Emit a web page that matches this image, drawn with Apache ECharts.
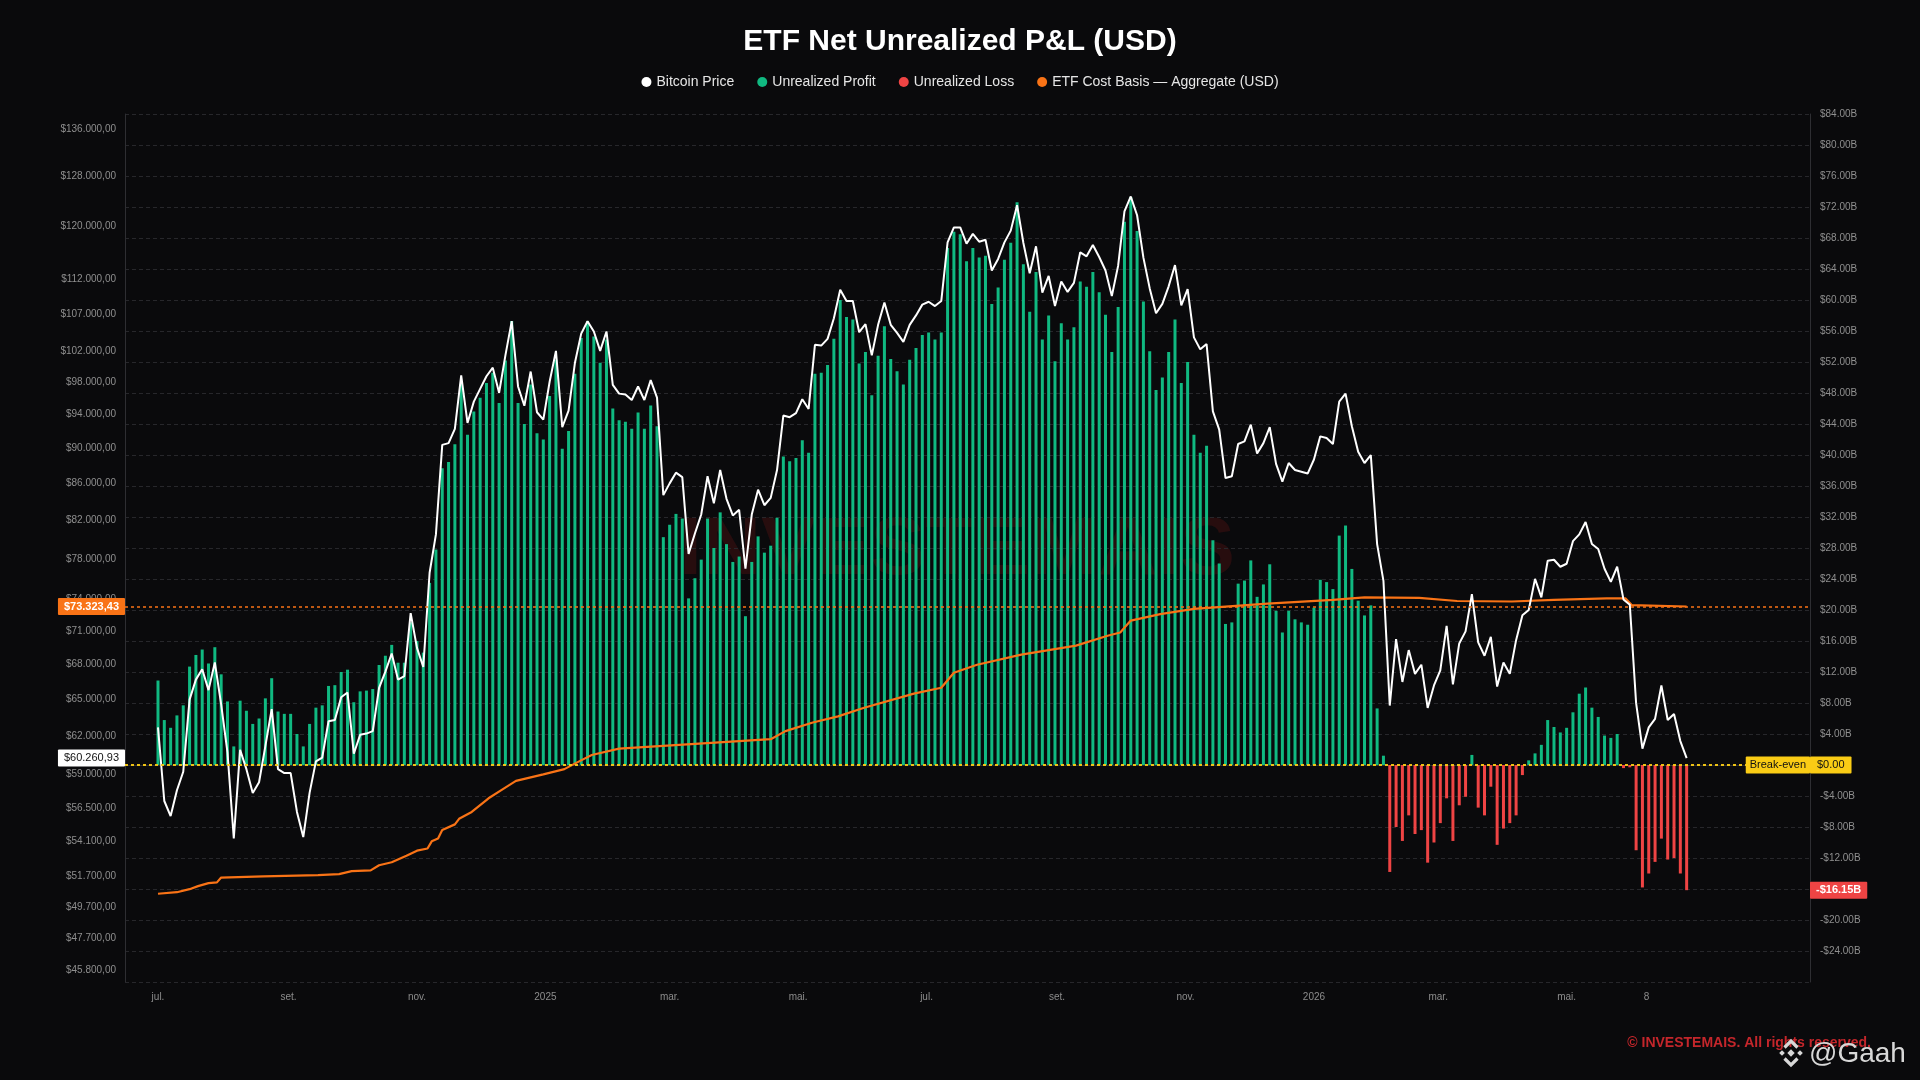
<!DOCTYPE html>
<html>
<head>
<meta charset="utf-8">
<title>ETF Net Unrealized P&amp;L (USD)</title>
<script src="https://cdn.jsdelivr.net/npm/echarts@6/dist/echarts.min.js"></script>
<style>
  html, body { margin: 0; padding: 0; background: #0a0a0c; }
  #chart { width: 1920px; height: 1080px; }
</style>
</head>
<body>
<div id="chart"></div>
<script>
// price and P&L are sampled every 3 days starting 2024-07-01
const sampleStart = '2024-07-01';
const sampleStepDays = 3;

// Bitcoin price, thousand USD
const btcPrice = [
  62.7, 57.0, 55.9, 57.8, 59.2, 65.0, 66.7, 67.6, 65.8, 68.2,
  64.6, 60.7, 54.3, 60.9, 59.4, 57.6, 58.4, 61.2, 64.2, 59.4,
  59.1, 59.1, 56.2, 54.4, 57.6, 60.0, 60.3, 63.2, 63.3, 65.2,
  65.6, 60.6, 62.1, 62.2, 62.4, 66.0, 67.4, 69.0, 66.7, 67.0,
  72.7, 69.5, 67.8, 76.6, 80.5, 90.4, 90.6, 92.3, 98.9, 93.0,
  95.6, 97.2, 98.8, 99.9, 96.7, 101.5, 106.1, 97.5, 95.1, 99.4,
  94.3, 93.4, 98.1, 102.1, 92.5, 94.5, 100.5, 104.4, 106.1, 104.7,
  102.1, 104.7, 97.7, 96.6, 96.5, 95.8, 97.5, 95.8, 98.3, 96.1,
  84.7, 86.0, 87.2, 86.7, 78.5, 80.6, 82.6, 86.8, 83.8, 87.5,
  84.3, 82.5, 83.1, 77.0, 82.6, 85.3, 83.6, 84.4, 87.5, 93.9,
  93.7, 94.2, 95.9, 94.7, 102.9, 102.8, 103.7, 106.5, 110.5, 108.9,
  108.9, 104.6, 105.7, 101.5, 105.6, 108.7, 105.6, 104.5, 103.3, 105.6,
  106.9, 108.4, 108.8, 108.2, 108.9, 117.5, 119.8, 119.8, 117.3, 118.8,
  117.6, 117.9, 113.3, 115.0, 117.5, 119.3, 123.3, 117.4, 112.9, 116.9,
  110.1, 112.5, 108.2, 111.7, 110.2, 111.5, 116.0, 115.4, 117.1, 115.3,
  113.3, 109.6, 114.0, 122.3, 124.7, 121.7, 115.2, 110.7, 107.2, 108.5,
  111.0, 114.1, 108.3, 110.6, 103.9, 102.3, 103.0, 94.4, 92.2, 86.6,
  86.8, 90.5, 90.8, 92.8, 89.4, 90.6, 92.5, 88.2, 86.2, 88.3,
  87.5, 87.3, 87.1, 88.7, 91.4, 91.2, 90.5, 95.6, 96.6, 92.6,
  89.6, 88.3, 89.2, 79.5, 75.8, 64.5, 70.3, 66.5, 69.3, 67.2,
  68.0, 64.3, 66.2, 67.5, 71.5, 66.3, 69.9, 71.0, 74.5, 70.0,
  68.8, 70.5, 66.1, 68.2, 67.2, 70.2, 72.5, 73.0, 76.0, 74.2,
  77.8, 77.9, 77.2, 77.5, 79.8, 80.5, 81.8, 79.5, 79.0, 77.0,
  75.7, 77.2, 74.0, 73.5, 64.7, 61.0, 62.7, 63.4, 66.2, 63.3,
  63.8, 61.6, 60.26093
];

// ETF net unrealized P&L, billion USD
const netPnl = [
  10.9, 5.8, 4.8, 6.4, 7.7, 12.7, 14.2, 14.9, 13.1, 15.2,
  11.7, 8.2, 2.4, 8.3, 7.0, 5.3, 6.0, 8.6, 11.2, 6.9,
  6.6, 6.6, 4.0, 2.4, 5.3, 7.4, 7.7, 10.2, 10.3, 12.0,
  12.3, 8.1, 9.5, 9.6, 9.8, 12.9, 14.1, 15.5, 13.2, 13.2,
  18.4, 16.0, 14.5, 23.5, 27.8, 38.3, 39.1, 41.4, 49.2, 42.6,
  45.6, 47.4, 49.3, 50.6, 46.7, 52.2, 57.3, 46.7, 44.0, 49.1,
  42.8, 42.0, 47.6, 52.3, 40.8, 43.1, 50.5, 55.1, 57.3, 55.3,
  51.9, 54.9, 46.0, 44.5, 44.3, 43.4, 45.5, 43.4, 46.4, 43.7,
  29.4, 31.0, 32.4, 31.8, 21.5, 24.1, 26.5, 31.8, 28.0, 32.6,
  28.5, 26.2, 26.9, 19.2, 26.2, 29.5, 27.4, 28.3, 31.9, 39.8,
  39.2, 39.6, 41.9, 40.3, 50.5, 50.6, 51.6, 55.0, 60.0, 57.8,
  57.5, 51.8, 53.3, 47.7, 52.8, 56.6, 52.4, 50.8, 49.1, 52.3,
  53.8, 55.5, 55.8, 54.9, 55.8, 66.7, 68.8, 68.5, 65.0, 66.7,
  65.5, 65.7, 59.5, 61.6, 65.2, 67.4, 72.6, 64.6, 58.5, 63.6,
  54.9, 58.0, 52.1, 57.0, 54.9, 56.5, 62.4, 61.7, 63.6, 61.0,
  58.1, 53.3, 59.1, 70.1, 73.3, 68.9, 59.8, 53.4, 48.4, 50.0,
  53.3, 57.5, 49.3, 52.0, 42.6, 40.3, 41.2, 29.0, 26.0, 18.2,
  18.4, 23.4, 23.8, 26.4, 21.7, 23.3, 25.9, 19.9, 17.1, 19.9,
  18.8, 18.4, 18.1, 20.3, 23.9, 23.6, 22.7, 29.6, 30.9, 25.3,
  21.2, 19.3, 20.6, 7.3, 1.2, -13.8, -8.0, -9.8, -6.5, -8.9,
  -8.4, -12.6, -10.0, -7.5, -4.3, -9.8, -5.2, -4.1, 1.3, -5.5,
  -6.5, -2.8, -10.3, -8.2, -7.5, -6.5, -1.3, 0.6, 1.5, 2.6,
  5.8, 4.9, 4.2, 4.8, 6.8, 9.2, 10.0, 7.4, 6.2, 3.8,
  3.5, 4.0, -0.4, -0.3, -11.0, -15.8, -14.0, -12.5, -9.5, -12.2,
  -12.0, -14.0, -16.15
];

// ETF aggregate cost basis, thousand USD
const costDates = [
  '2024-07-01', '2024-07-10', '2024-07-16', '2024-07-20', '2024-07-25', '2024-07-29',
  '2024-07-31', '2024-08-20', '2024-09-15', '2024-09-25', '2024-10-01', '2024-10-10',
  '2024-10-14', '2024-10-20', '2024-10-27', '2024-11-01', '2024-11-06', '2024-11-08',
  '2024-11-11', '2024-11-13', '2024-11-19', '2024-11-21', '2024-11-27', '2024-12-05',
  '2024-12-12', '2024-12-18', '2024-12-31', '2025-01-10', '2025-01-17', '2025-01-23',
  '2025-02-05', '2025-03-15', '2025-04-18', '2025-04-25', '2025-05-08', '2025-05-20',
  '2025-06-01', '2025-06-25', '2025-07-08', '2025-07-14', '2025-07-25', '2025-08-15',
  '2025-09-10', '2025-09-25', '2025-10-01', '2025-10-06', '2025-10-20', '2025-11-05',
  '2025-12-10', '2026-01-10', '2026-01-25', '2026-02-20', '2026-03-10', '2026-04-05',
  '2026-04-25', '2026-05-20', '2026-05-29', '2026-06-01', '2026-06-27'
];
const costBasis = [
  50.55, 50.65, 50.85, 51.05, 51.25, 51.30,
  51.62, 51.70, 51.78, 51.85, 52.05, 52.10,
  52.45, 52.65, 53.10, 53.45, 53.60, 54.10,
  54.30, 54.90, 55.30, 55.70, 56.20, 57.20,
  57.90, 58.50, 59.00, 59.40, 60.00, 60.50,
  61.00, 61.40, 61.75, 62.40, 63.10, 63.60,
  64.30, 65.50, 66.00, 67.30, 68.00, 68.90,
  69.70, 70.60, 70.90, 72.00, 72.60, 73.10,
  73.60, 73.95, 74.20, 74.15, 73.85, 73.80,
  73.95, 74.10, 74.10, 73.45, 73.32343
];

// left price scale labels (log scale)
const priceTicks = [
  136000, 128000, 120000, 112000, 107000, 102000, 98000, 94000, 90000, 86000,
  82000, 78000, 74000, 71000, 68000, 65000, 62000, 59000, 56500, 54100,
  51700, 49700, 47700, 45800
];
const timeTicks = [
  '2024-07-01', '2024-09-01', '2024-11-01', '2025-01-01', '2025-03-01', '2025-05-01',
  '2025-07-01', '2025-09-01', '2025-11-01', '2026-01-01', '2026-03-01', '2026-05-01',
  '2026-06-08'
];

const lastPrice = 60260.93;
const lastCostBasis = 73323.43;
const lastPnl = -16.15;

const FONT = "'Liberation Sans', Arial, sans-serif";
const DAY = 86400000;
const toTime = (s) => Date.parse(s + 'T00:00:00Z');

const t0 = toTime(sampleStart);
const sampleTimes = btcPrice.map((_, i) => t0 + i * sampleStepDays * DAY);

const priceData = btcPrice.map((v, i) => [sampleTimes[i], v * 1000]);
const profitData = netPnl.map((v, i) => [sampleTimes[i], v >= 0 ? v : '-']);
const lossData = netPnl.map((v, i) => [sampleTimes[i], v < 0 ? v : '-']);
const costData = costBasis.map((v, i) => [toTime(costDates[i]), v * 1000]);

const monthAbbr = ['jan.', 'fev.', 'mar.', 'abr.', 'mai.', 'jun.', 'jul.', 'ago.', 'set.', 'out.', 'nov.', 'dez.'];

function dateLabel(v) {
  const d = new Date(v);
  if (d.getUTCDate() !== 1) return String(d.getUTCDate());
  if (d.getUTCMonth() === 0) return String(d.getUTCFullYear());
  return monthAbbr[d.getUTCMonth()];
}

// $136.000,00 style
function usdBr(v) {
  const parts = v.toFixed(2).split('.');
  return '$' + parts[0].replace(/\B(?=(\d{3})+(?!\d))/g, '.') + ',' + parts[1];
}

function billions(v) {
  if (v === 0) return '';
  return (v < 0 ? '-$' : '$') + Math.abs(v).toFixed(2) + 'B';
}

function tag(text, bg, fg, pos, bold, pad) {
  return {
    show: true,
    position: pos,
    distance: 0,
    formatter: text,
    backgroundColor: bg,
    color: fg,
    fontSize: 11,
    fontWeight: bold ? 'bold' : 'normal',
    fontFamily: FONT,
    padding: pad || [3, 6],
    borderRadius: 1
  };
}

// markLine that only carries a label
const hiddenLine = { color: 'rgba(0,0,0,0)', width: 1, type: 'solid' };

const chart = echarts.init(document.getElementById('chart'));

const option = {
  backgroundColor: '#0a0a0c',
  animation: false,
  textStyle: { fontFamily: FONT },
  title: {
    text: 'ETF Net Unrealized P&L (USD)',
    left: 'center',
    top: 22,
    textStyle: { color: '#ffffff', fontSize: 30, fontWeight: 'bold', fontFamily: FONT }
  },
  legend: {
    top: 70,
    left: 'center',
    icon: 'circle',
    itemWidth: 10,
    itemHeight: 10,
    itemGap: 23,
    textStyle: { color: '#e6e6e6', fontSize: 14, fontFamily: FONT },
    data: ['Bitcoin Price', 'Unrealized Profit', 'Unrealized Loss', 'ETF Cost Basis — Aggregate (USD)']
  },
  grid: { left: 125, right: 110, top: 114, bottom: 98 },
  xAxis: {
    // timestamps on a plain value axis so the label positions can be set exactly
    type: 'value',
    min: Date.parse('2024-06-15T08:00:00Z'),
    max: Date.parse('2026-08-24T14:00:00Z'),
    axisLine: { lineStyle: { color: '#2e2e32' } },
    axisTick: { show: false },
    splitLine: { show: false },
    axisLabel: {
      customValues: timeTicks.map(toTime),
      formatter: dateLabel,
      color: '#8c8c8c',
      fontSize: 10,
      margin: 10
    }
  },
  yAxis: [
    {
      type: 'log',
      logBase: 10,
      min: 45090,
      max: 138750,
      position: 'left',
      axisLine: { show: true, lineStyle: { color: '#2e2e32' } },
      axisTick: { show: false },
      splitLine: { show: false },
      minorSplitLine: { show: false },
      axisLabel: {
        customValues: priceTicks,
        formatter: usdBr,
        color: '#8f8f8f',
        fontSize: 10,
        margin: 9
      }
    },
    {
      type: 'value',
      min: -28,
      max: 84,
      interval: 4,
      position: 'right',
      axisLine: { show: true, lineStyle: { color: '#2e2e32' } },
      axisTick: { show: false },
      splitLine: { lineStyle: { color: '#27272b', type: [4, 3] } },
      axisLabel: {
        formatter: billions,
        color: '#8f8f8f',
        fontSize: 10,
        margin: 10,
        showMinLabel: false
      }
    }
  ],
  series: [
    {
      name: 'Unrealized Profit',
      type: 'bar',
      yAxisIndex: 1,
      barWidth: 3,
      barGap: '-100%',
      itemStyle: { color: '#10b981' },
      data: profitData,
      z: 2,
      markLine: {
        silent: true,
        symbol: ['none', 'none'],
        lineStyle: { color: '#facc15', type: [3, 3], width: 1.5 },
        data: [
          { yAxis: 0, label: tag('$0.00', '#facc15', '#111111', 'end', false, [3, 7]) },
          { yAxis: 0, label: tag('Break-even', '#facc15', '#111111', 'insideEnd', false, [3, 4]) }
        ]
      }
    },
    {
      name: 'Unrealized Loss',
      type: 'bar',
      yAxisIndex: 1,
      barWidth: 3,
      barGap: '-100%',
      itemStyle: { color: '#ef4444' },
      data: lossData,
      z: 2,
      markLine: {
        silent: true,
        symbol: ['none', 'none'],
        lineStyle: hiddenLine,
        data: [
          { yAxis: lastPnl, label: tag('-$16.15B', '#ef4444', '#ffffff', 'end', true) }
        ]
      }
    },
    {
      name: 'ETF Cost Basis — Aggregate (USD)',
      type: 'line',
      yAxisIndex: 0,
      showSymbol: false,
      symbol: 'none',
      itemStyle: { color: '#f97316' },
      lineStyle: { color: '#f97316', width: 2.2 },
      data: costData,
      z: 3,
      markLine: {
        silent: true,
        symbol: ['none', 'none'],
        lineStyle: { color: '#f97316', type: [3, 3], width: 1.5 },
        data: [
          { yAxis: lastCostBasis, label: tag(usdBr(lastCostBasis), '#f97316', '#ffffff', 'start', true) }
        ]
      }
    },
    {
      name: 'Bitcoin Price',
      type: 'line',
      yAxisIndex: 0,
      showSymbol: false,
      symbol: 'none',
      itemStyle: { color: '#ffffff' },
      lineStyle: { color: '#ffffff', width: 2 },
      data: priceData,
      z: 4,
      markLine: {
        silent: true,
        symbol: ['none', 'none'],
        lineStyle: hiddenLine,
        data: [
          { yAxis: lastPrice, label: tag(usdBr(lastPrice), '#ffffff', '#111111', 'start', false) }
        ]
      }
    }
  ],
  graphic: [
    {
      type: 'text',
      x: 957,
      y: 551,
      z: 0,
      silent: true,
      style: {
        text: 'INVESTEMAIS',
        align: 'center',
        verticalAlign: 'middle',
        fill: 'rgba(185, 28, 28, 0.17)',
        font: 'bold 82px ' + FONT
      }
    },
    {
      type: 'text',
      x: 1871,
      y: 1043,
      silent: true,
      style: {
        text: '© INVESTEMAIS. All rights reserved.',
        align: 'right',
        verticalAlign: 'middle',
        fill: '#c4262b',
        font: 'bold 14px ' + FONT
      }
    },
    {
      type: 'text',
      x: 1809,
      y: 1054,
      silent: true,
      style: {
        text: '@Gaah',
        align: 'left',
        verticalAlign: 'middle',
        fill: '#d8d8d8',
        font: '28px ' + FONT
      }
    },
    {
      type: 'group',
      x: 1791,
      y: 1053,
      silent: true,
      children: [
        { type: 'rect', rotation: Math.PI / 4, shape: { x: -2.6, y: -2.6, width: 5.2, height: 5.2 }, style: { fill: '#d8d8d8' } },
        { type: 'rect', x: -9, rotation: Math.PI / 4, shape: { x: -2, y: -2, width: 4, height: 4 }, style: { fill: '#d8d8d8' } },
        { type: 'rect', x: 9, rotation: Math.PI / 4, shape: { x: -2, y: -2, width: 4, height: 4 }, style: { fill: '#d8d8d8' } },
        { type: 'polyline', shape: { points: [[-6.5, -5.5], [0, -12], [6.5, -5.5]] }, style: { stroke: '#d8d8d8', lineWidth: 3.2, fill: null } },
        { type: 'polyline', shape: { points: [[-6.5, 5.5], [0, 12], [6.5, 5.5]] }, style: { stroke: '#d8d8d8', lineWidth: 3.2, fill: null } }
      ]
    }
  ]
};

chart.setOption(option);
</script>
</body>
</html>
